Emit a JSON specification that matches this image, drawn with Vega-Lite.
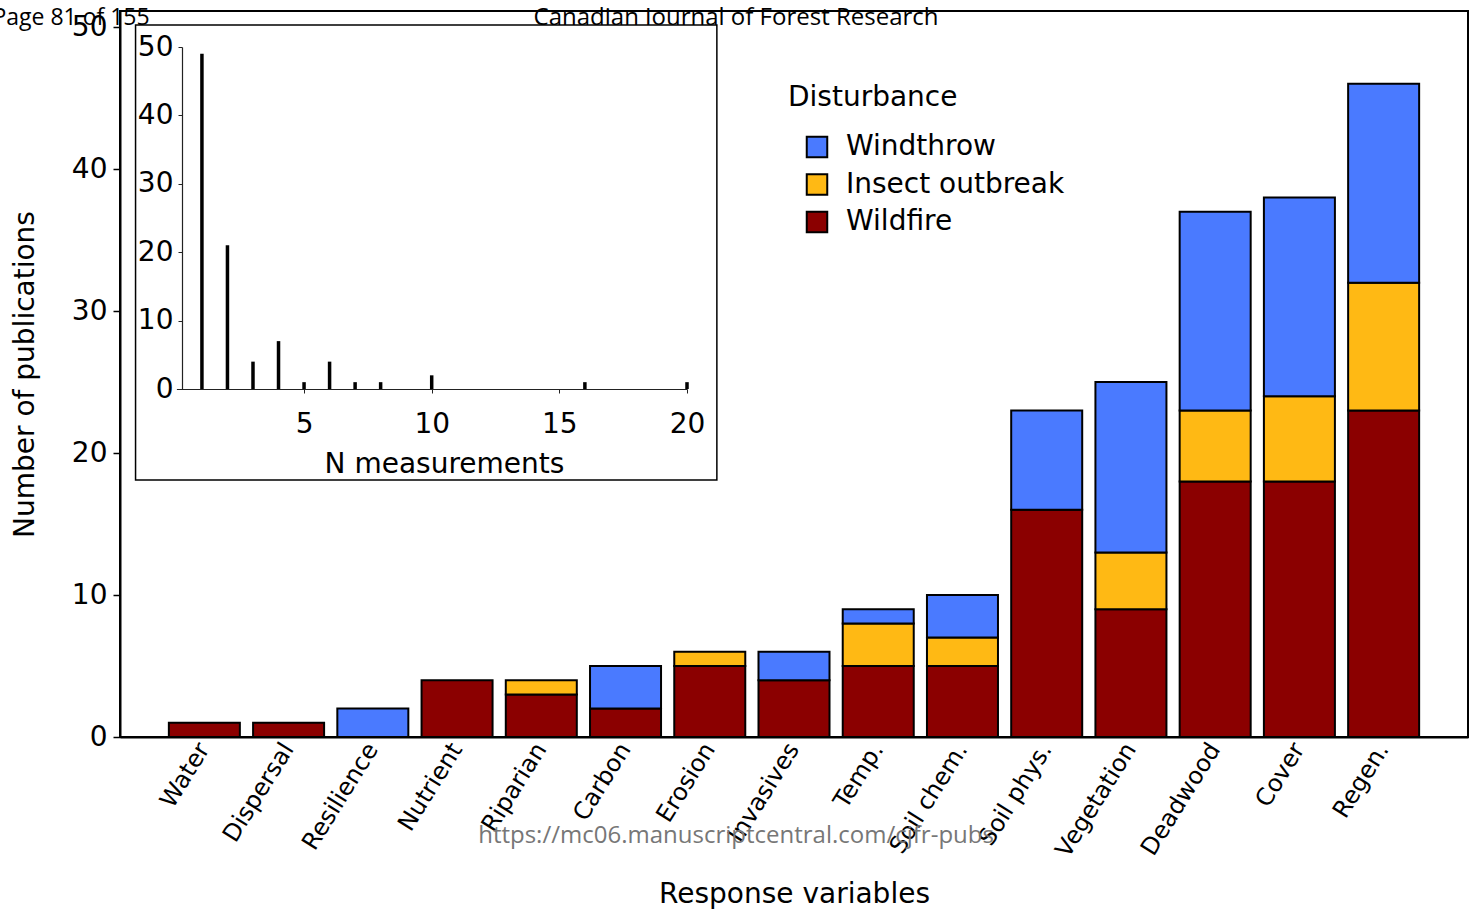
{
  "$schema": "https://vega.github.io/schema/vega-lite/v6.json",
  "width": 1348,
  "height": 726,
  "autosize": "none",
  "padding": {"left": 120, "top": 11, "right": 3, "bottom": 172},
  "background": "white",
  "config": {
    "font": "DejaVu Sans",
    "view": {"stroke": "black", "strokeWidth": 2},
    "axis": {"labelColor": "black", "titleColor": "black", "titleFontWeight": "normal", "grid": false}
  },
  "layer": [
    {
      "data": {
        "values": [
          {"variable": "Water", "disturbance": "Wildfire", "count": 1, "rank": 1},
          {"variable": "Dispersal", "disturbance": "Wildfire", "count": 1, "rank": 1},
          {"variable": "Resilience", "disturbance": "Windthrow", "count": 2, "rank": 3},
          {"variable": "Nutrient", "disturbance": "Wildfire", "count": 4, "rank": 1},
          {"variable": "Riparian", "disturbance": "Wildfire", "count": 3, "rank": 1},
          {"variable": "Riparian", "disturbance": "Insect outbreak", "count": 1, "rank": 2},
          {"variable": "Carbon", "disturbance": "Wildfire", "count": 2, "rank": 1},
          {"variable": "Carbon", "disturbance": "Windthrow", "count": 3, "rank": 3},
          {"variable": "Erosion", "disturbance": "Wildfire", "count": 5, "rank": 1},
          {"variable": "Erosion", "disturbance": "Insect outbreak", "count": 1, "rank": 2},
          {"variable": "Invasives", "disturbance": "Wildfire", "count": 4, "rank": 1},
          {"variable": "Invasives", "disturbance": "Windthrow", "count": 2, "rank": 3},
          {"variable": "Temp.", "disturbance": "Wildfire", "count": 5, "rank": 1},
          {"variable": "Temp.", "disturbance": "Insect outbreak", "count": 3, "rank": 2},
          {"variable": "Temp.", "disturbance": "Windthrow", "count": 1, "rank": 3},
          {"variable": "Soil chem.", "disturbance": "Wildfire", "count": 5, "rank": 1},
          {"variable": "Soil chem.", "disturbance": "Insect outbreak", "count": 2, "rank": 2},
          {"variable": "Soil chem.", "disturbance": "Windthrow", "count": 3, "rank": 3},
          {"variable": "Soil phys.", "disturbance": "Wildfire", "count": 16, "rank": 1},
          {"variable": "Soil phys.", "disturbance": "Windthrow", "count": 7, "rank": 3},
          {"variable": "Vegetation", "disturbance": "Wildfire", "count": 9, "rank": 1},
          {"variable": "Vegetation", "disturbance": "Insect outbreak", "count": 4, "rank": 2},
          {"variable": "Vegetation", "disturbance": "Windthrow", "count": 12, "rank": 3},
          {"variable": "Deadwood", "disturbance": "Wildfire", "count": 18, "rank": 1},
          {"variable": "Deadwood", "disturbance": "Insect outbreak", "count": 5, "rank": 2},
          {"variable": "Deadwood", "disturbance": "Windthrow", "count": 14, "rank": 3},
          {"variable": "Cover", "disturbance": "Wildfire", "count": 18, "rank": 1},
          {"variable": "Cover", "disturbance": "Insect outbreak", "count": 6, "rank": 2},
          {"variable": "Cover", "disturbance": "Windthrow", "count": 14, "rank": 3},
          {"variable": "Regen.", "disturbance": "Wildfire", "count": 23, "rank": 1},
          {"variable": "Regen.", "disturbance": "Insect outbreak", "count": 9, "rank": 2},
          {"variable": "Regen.", "disturbance": "Windthrow", "count": 14, "rank": 3}
        ]
      },
      "layer": [
        {
          "mark": {"type": "bar", "stroke": "black", "strokeWidth": 2},
          "encoding": {
            "x": {
              "field": "variable",
              "type": "nominal",
              "scale": {
                "domain": ["Water", "Dispersal", "Resilience", "Nutrient", "Riparian", "Carbon", "Erosion", "Invasives", "Temp.", "Soil chem.", "Soil phys.", "Vegetation", "Deadwood", "Cover", "Regen."],
                "paddingInner": 0.157,
                "paddingOuter": 0.58
              },
              "axis": {
                "title": "Response variables",
                "titleFontSize": 28,
                "titleX": 674,
                "titleY": 165,
                "titleBaseline": "alphabetic",
                "labelFontSize": 24,
                "labelAngle": -58,
                "labelAlign": "right",
                "labelBaseline": "middle",
                "labelPadding": 8,
                "ticks": false,
                "domainColor": "black",
                "domainWidth": 2
              }
            },
            "y": {
              "field": "count",
              "type": "quantitative",
              "scale": {"domain": [0, 51.13], "nice": false},
              "axis": {
                "title": "Number of publications",
                "titleFontSize": 28,
                "titleX": -87,
                "titleY": 363,
                "titleAngle": -90,
                "titleBaseline": "alphabetic",
                "values": [0, 10, 20, 30, 40, 50],
                "labelFontSize": 28,
                "labelFlush": false,
                "tickSize": 7,
                "tickWidth": 1.5,
                "tickColor": "black",
                "labelPadding": 6,
                "domainColor": "black",
                "domainWidth": 2
              }
            },
            "color": {
              "field": "disturbance",
              "type": "nominal",
              "scale": {"domain": ["Windthrow", "Insect outbreak", "Wildfire"], "range": ["#4a7aff", "#ffb914", "#8b0000"]},
              "legend": {
                "orient": "none",
                "legendX": 668,
                "legendY": 73,
                "title": "Disturbance",
                "titleFontSize": 28,
                "titleFontWeight": "normal",
                "titleColor": "black",
                "labelFontSize": 28,
                "labelColor": "black",
                "labelLimit": 0,
                "symbolType": "square",
                "symbolSize": 420,
                "symbolStrokeColor": "black",
                "symbolStrokeWidth": 2,
                "symbolOffset": 15,
                "labelOffset": 15,
                "rowPadding": 7.5,
                "titlePadding": 21,
                "padding": 0
              }
            },
            "order": {"field": "rank", "type": "quantitative"}
          }
        },
        {
          "data": {"values": [{}]},
          "mark": {"type": "text", "text": "https://mc06.manuscriptcentral.com/cjfr-pubs", "font": "Open Sans", "fontSize": 24, "color": "#777777", "align": "center", "baseline": "alphabetic"},
          "encoding": {
            "x": {"datum": "Erosion", "type": "nominal", "bandPosition": 0.87},
            "y": {"datum": -7.46, "type": "quantitative"}
          }
        },
        {
          "data": {"values": [{}]},
          "mark": {"type": "text", "text": "Canadian Journal of Forest Research", "font": "Open Sans", "fontSize": 24, "color": "black", "align": "center", "baseline": "alphabetic"},
          "encoding": {
            "x": {"datum": "Erosion", "type": "nominal", "bandPosition": 0.87},
            "y": {"datum": 50.15, "type": "quantitative"}
          }
        },
        {
          "data": {"values": [{}]},
          "mark": {"type": "text", "text": "Page 81 of 155", "font": "Open Sans", "fontSize": 23, "color": "black", "align": "right", "baseline": "alphabetic"},
          "encoding": {
            "x": {"datum": "Water", "type": "nominal", "bandPosition": -0.27},
            "y": {"datum": 50.15, "type": "quantitative"}
          }
        }
      ]
    },
    {
      "layer": [
        {
          "data": {"values": [{}]},
          "mark": {"type": "rect", "fill": "white", "stroke": "black", "strokeWidth": 1.5},
          "encoding": {
            "x": {"datum": -1.6, "type": "quantitative"},
            "x2": {"datum": 21.17},
            "y": {"datum": 53.22, "type": "quantitative"},
            "y2": {"datum": -13.3}
          }
        },
        {
          "data": {
            "values": [
              {"n": 1, "count": 49},
              {"n": 2, "count": 21},
              {"n": 3, "count": 4},
              {"n": 4, "count": 7},
              {"n": 5, "count": 1},
              {"n": 6, "count": 4},
              {"n": 7, "count": 1},
              {"n": 8, "count": 1},
              {"n": 10, "count": 2},
              {"n": 16, "count": 1},
              {"n": 20, "count": 1}
            ]
          },
          "mark": {"type": "rule", "strokeWidth": 3.5, "color": "black", "strokeCap": "butt"},
          "encoding": {
            "x": {
              "field": "n",
              "type": "quantitative",
              "scale": {"domain": [0, 20], "range": [56.4, 567], "nice": false, "zero": false},
              "axis": {
                "orient": "bottom",
                "offset": -348,
                "values": [5, 10, 15, 20],
                "format": "d",
                "title": "N measurements",
                "titleFontSize": 28,
                "titleX": 324,
                "titleY": 83,
                "titleBaseline": "alphabetic",
                "labelFontSize": 28,
                "labelPadding": 17,
                "labelFlush": false,
                "tickSize": 4,
                "tickColor": "#222222",
                "domainColor": "#222222",
                "domainWidth": 1.2,
                "zindex": 1
              }
            },
            "y": {
              "field": "count",
              "type": "quantitative",
              "scale": {"domain": [0, 50], "range": [378, 36], "nice": false},
              "axis": {
                "orient": "left",
                "offset": -62,
                "values": [0, 10, 20, 30, 40, 50],
                "format": "d",
                "title": null,
                "labelFontSize": 28,
                "labelPadding": 5,
                "labelFlush": false,
                "tickSize": 4,
                "tickColor": "#222222",
                "domainColor": "#222222",
                "domainWidth": 1.2,
                "zindex": 1
              }
            },
            "y2": {"datum": 0}
          }
        }
      ]
    }
  ],
  "resolve": {"scale": {"x": "independent", "y": "independent"}}
}
